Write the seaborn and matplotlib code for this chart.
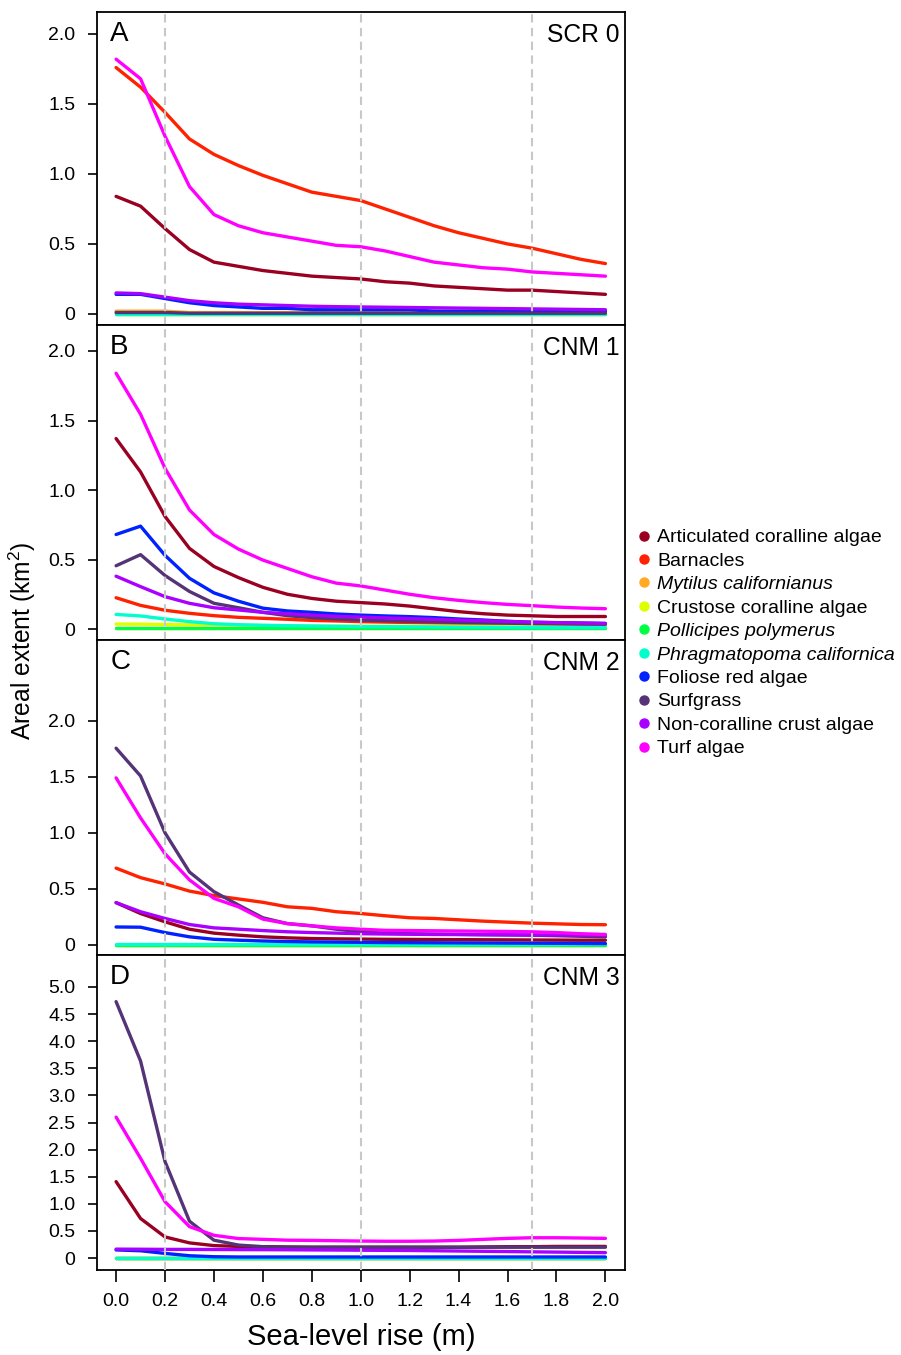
import numpy as np
import pandas as pd
import matplotlib
matplotlib.use("Agg")
import matplotlib.pyplot as plt
from matplotlib.lines import Line2D
import seaborn as sns

# sea-level rise steps (m)
slr = [round(0.1 * i, 1) for i in range(21)]

species = ['Articulated coralline algae', 'Barnacles', 'Mytilus californianus',
           'Crustose coralline algae', 'Pollicipes polymerus',
           'Phragmatopoma californica', 'Foliose red algae', 'Surfgrass',
           'Non-coralline crust algae', 'Turf algae']
italic_species = ['Mytilus californianus', 'Pollicipes polymerus',
                  'Phragmatopoma californica']
colors = ['#990022', '#FF2200', '#FFAA22', '#DDFF00', '#00FF44',
          '#00FFCC', '#0022FF', '#553377', '#AA00FF', '#FF00FF']

# Panel A - SCR 0
a_artic = [0.84, 0.77, 0.61, 0.46, 0.37, 0.34, 0.31, 0.29, 0.27, 0.26, 0.25,
           0.23, 0.22, 0.20, 0.19, 0.18, 0.17, 0.17, 0.16, 0.15, 0.14]
a_barn = [1.76, 1.62, 1.44, 1.25, 1.14, 1.06, 0.99, 0.93, 0.87, 0.84, 0.81,
          0.75, 0.69, 0.63, 0.58, 0.54, 0.50, 0.47, 0.43, 0.39, 0.36]
a_myt = [0.02, 0.02, 0.02, 0.01, 0.01, 0.01, 0.01, 0.01, 0.01, 0.01, 0.01,
         0.01, 0.01, 0.01, 0.01, 0.01, 0.01, 0.01, 0.01, 0.01, 0.01]
a_crust = [0.0] * 21
a_poll = [0.0] * 21
a_phrag = [0.0] * 21
a_fol = [0.14, 0.14, 0.11, 0.08, 0.06, 0.05, 0.04, 0.04, 0.03, 0.03, 0.03,
         0.03, 0.03, 0.02, 0.02, 0.02, 0.02, 0.02, 0.02, 0.02, 0.02]
a_surf = [0.01, 0.01, 0.01, 0.005, 0.005, 0.005, 0.005, 0.005, 0.005, 0.005, 0.005,
          0.005, 0.005, 0.005, 0.005, 0.005, 0.005, 0.005, 0.005, 0.005, 0.005]
a_ncc = [0.15, 0.145, 0.12, 0.095, 0.08, 0.07, 0.065, 0.06, 0.055, 0.052, 0.05,
         0.048, 0.046, 0.044, 0.042, 0.04, 0.038, 0.036, 0.034, 0.032, 0.03]
a_turf = [1.82, 1.68, 1.27, 0.91, 0.71, 0.63, 0.58, 0.55, 0.52, 0.49, 0.48,
          0.45, 0.41, 0.37, 0.35, 0.33, 0.32, 0.30, 0.29, 0.28, 0.27]

# Panel B - CNM 1
b_artic = [1.37, 1.13, 0.81, 0.58, 0.45, 0.37, 0.30, 0.25, 0.22, 0.20, 0.19,
           0.18, 0.165, 0.145, 0.125, 0.11, 0.10, 0.095, 0.09, 0.09, 0.09]
b_barn = [0.225, 0.17, 0.135, 0.113, 0.096, 0.084, 0.077, 0.07, 0.062, 0.058, 0.053,
          0.05, 0.047, 0.044, 0.041, 0.039, 0.037, 0.035, 0.033, 0.031, 0.03]
b_myt = [0.01] * 21
b_crust = [0.036, 0.035, 0.033, 0.03, 0.03, 0.028, 0.025, 0.022, 0.02, 0.02, 0.02,
           0.02, 0.02, 0.02, 0.02, 0.02, 0.02, 0.02, 0.02, 0.02, 0.02]
b_poll = [0.005] * 21
b_phrag = [0.105, 0.094, 0.072, 0.053, 0.038, 0.031, 0.027, 0.024, 0.022, 0.02, 0.018,
           0.017, 0.016, 0.015, 0.014, 0.013, 0.012, 0.011, 0.01, 0.01, 0.01]
b_fol = [0.68, 0.74, 0.53, 0.365, 0.26, 0.20, 0.15, 0.13, 0.12, 0.108, 0.10,
         0.094, 0.089, 0.082, 0.072, 0.065, 0.055, 0.048, 0.045, 0.043, 0.04]
b_surf = [0.455, 0.535, 0.385, 0.27, 0.185, 0.153, 0.12, 0.096, 0.082, 0.072, 0.065,
          0.06, 0.056, 0.052, 0.048, 0.045, 0.042, 0.039, 0.037, 0.035, 0.034]
b_ncc = [0.38, 0.305, 0.233, 0.185, 0.153, 0.137, 0.12, 0.11, 0.10, 0.091, 0.086,
         0.08, 0.075, 0.07, 0.065, 0.06, 0.055, 0.05, 0.046, 0.043, 0.04]
b_turf = [1.84, 1.545, 1.156, 0.856, 0.68, 0.575, 0.496, 0.436, 0.376, 0.33, 0.31,
          0.28, 0.25, 0.225, 0.206, 0.19, 0.177, 0.168, 0.158, 0.151, 0.146]

# Panel C - CNM 2
c_artic = [0.377, 0.28, 0.206, 0.14, 0.105, 0.087, 0.072, 0.063, 0.057, 0.054, 0.052,
           0.05, 0.049, 0.048, 0.047, 0.046, 0.045, 0.044, 0.043, 0.042, 0.042]
c_barn = [0.685, 0.60, 0.544, 0.48, 0.44, 0.41, 0.38, 0.34, 0.326, 0.296, 0.28,
          0.26, 0.242, 0.236, 0.224, 0.212, 0.203, 0.194, 0.188, 0.182, 0.18]
c_myt = [0.0] * 21
c_crust = [0.0] * 21
c_poll = [0.0] * 21
c_phrag = [0.005] * 21
c_fol = [0.16, 0.158, 0.11, 0.072, 0.05, 0.042, 0.035, 0.03, 0.027, 0.025, 0.023,
         0.021, 0.02, 0.019, 0.018, 0.017, 0.016, 0.015, 0.014, 0.013, 0.012]
c_surf = [1.755, 1.507, 1.0, 0.65, 0.475, 0.356, 0.242, 0.19, 0.17, 0.14, 0.117,
          0.105, 0.10, 0.097, 0.094, 0.091, 0.089, 0.087, 0.082, 0.077, 0.072]
c_ncc = [0.377, 0.296, 0.236, 0.182, 0.152, 0.14, 0.128, 0.117, 0.11, 0.105, 0.10,
         0.097, 0.095, 0.093, 0.092, 0.091, 0.09, 0.089, 0.088, 0.087, 0.087]
c_turf = [1.49, 1.133, 0.813, 0.58, 0.415, 0.34, 0.23, 0.19, 0.17, 0.152, 0.14,
          0.13, 0.128, 0.126, 0.124, 0.122, 0.12, 0.117, 0.11, 0.10, 0.093]

# Panel D - CNM 3
d_artic = [1.41, 0.73, 0.39, 0.28, 0.23, 0.215, 0.21, 0.205, 0.2, 0.2, 0.2,
           0.2, 0.2, 0.2, 0.2, 0.205, 0.21, 0.21, 0.215, 0.215, 0.215]
d_barn = [0.0] * 21
d_myt = [0.0] * 21
d_crust = [0.0] * 21
d_poll = [0.005] * 21
d_phrag = [0.005] * 21
d_fol = [0.15, 0.135, 0.086, 0.043, 0.025, 0.02, 0.02, 0.02, 0.02, 0.02, 0.02,
         0.02, 0.02, 0.02, 0.02, 0.02, 0.02, 0.02, 0.02, 0.02, 0.02]
d_surf = [4.73, 3.635, 1.78, 0.68, 0.33, 0.24, 0.21, 0.2, 0.2, 0.2, 0.2,
          0.2, 0.2, 0.2, 0.2, 0.2, 0.2, 0.2, 0.2, 0.2, 0.2]
d_ncc = [0.165, 0.163, 0.16, 0.16, 0.158, 0.156, 0.155, 0.153, 0.15, 0.148, 0.145,
         0.142, 0.14, 0.135, 0.13, 0.125, 0.12, 0.115, 0.11, 0.105, 0.10]
d_turf = [2.6, 1.84, 1.04, 0.58, 0.42, 0.36, 0.345, 0.33, 0.326, 0.32, 0.314,
          0.31, 0.31, 0.314, 0.326, 0.345, 0.363, 0.375, 0.375, 0.37, 0.363]

panels = [
    ('A', 'SCR 0', [a_artic, a_barn, a_myt, a_crust, a_poll, a_phrag, a_fol, a_surf, a_ncc, a_turf]),
    ('B', 'CNM 1', [b_artic, b_barn, b_myt, b_crust, b_poll, b_phrag, b_fol, b_surf, b_ncc, b_turf]),
    ('C', 'CNM 2', [c_artic, c_barn, c_myt, c_crust, c_poll, c_phrag, c_fol, c_surf, c_ncc, c_turf]),
    ('D', 'CNM 3', [d_artic, d_barn, d_myt, d_crust, d_poll, d_phrag, d_fol, d_surf, d_ncc, d_turf]),
]
ylims = [(-0.079, 2.157), (-0.079, 2.187), (-0.09, 2.72), (-0.22, 5.59)]
yticks = [np.arange(0, 2.01, 0.5), np.arange(0, 2.01, 0.5),
          np.arange(0, 2.01, 0.5), np.arange(0, 5.01, 0.5)]

sns.set_style("ticks")
plt.rcParams['font.family'] = ['Liberation Sans', 'DejaVu Sans']
plt.rcParams['mathtext.fontset'] = 'custom'
plt.rcParams['mathtext.rm'] = 'Liberation Sans'
for key in ['text.color', 'axes.labelcolor', 'xtick.color', 'ytick.color']:
    plt.rcParams[key] = 'black'

palette = dict(zip(species, colors))

fig = plt.figure(figsize=(9.01, 13.55), dpi=100)
W, H = 901, 1355
left, right = 97, 625
edges = [12, 325, 640, 955, 1270]

axes = []
for i, (letter, site, series) in enumerate(panels):
    top, bot = edges[i], edges[i + 1]
    ax = fig.add_axes([left / W, 1 - bot / H, (right - left) / W, (bot - top) / H])
    axes.append(ax)
    rows = []
    for sp, vals in zip(species, series):
        for x, v in zip(slr, vals):
            rows.append({'slr': x, 'extent': v, 'species': sp})
    df = pd.DataFrame(rows)
    sns.lineplot(data=df, x='slr', y='extent', hue='species', hue_order=species,
                 palette=palette, estimator=None, linewidth=2.4, legend=False, ax=ax)
    for xv in [0.2, 1.0, 1.7]:
        ax.axvline(xv, color='#C8C8C8', linestyle=(0, (4, 2.6)), linewidth=1.5, zorder=5)
    ax.set_xlim(-0.078, 2.08)
    ax.set_ylim(*ylims[i])
    ax.set_yticks(yticks[i])
    ax.set_yticklabels(['0'] + ['%.1f' % t for t in yticks[i][1:]])
    ax.set_xlabel('')
    ax.set_ylabel('')
    for s in ax.spines.values():
        s.set_visible(True)
        s.set_linewidth(1.3)
        s.set_color('black')
    ax.tick_params(axis='y', direction='out', length=6.5, width=1.2, labelsize=14, pad=9)
    ax.text(0.025, 0.97, letter, transform=ax.transAxes, fontsize=20,
            ha='left', va='top')
    ax.text(0.99, 0.965, site, transform=ax.transAxes, fontsize=17.7,
            ha='right', va='top')
    if i < 3:
        ax.tick_params(axis='x', bottom=False, labelbottom=False)
    else:
        ax.set_xticks(np.arange(0, 2.01, 0.2))
        ax.set_xticklabels(['%.1f' % t for t in np.arange(0, 2.01, 0.2)])
        ax.tick_params(axis='x', direction='out', length=8.6, width=1.2, labelsize=14, pad=8)
        ax.set_xlabel('Sea-level rise (m)', fontsize=21, labelpad=9)

fig.text(22 / W, 1 - 641 / H, 'Areal extent (km$^2$)', rotation=90,
         fontsize=17.7, ha='center', va='center')

handles = []
for sp, c in zip(species, colors):
    handles.append(Line2D([], [], marker='o', linestyle='', color=c,
                          markersize=6.5, label=sp))
leg = fig.legend(handles=handles, loc='center left',
                 bbox_to_anchor=(636 / W, 1 - 643 / H), frameon=False,
                 fontsize=14, labelspacing=0.30, handletextpad=0.28,
                 handlelength=0.8, borderaxespad=0, borderpad=0)
for t in leg.get_texts():
    if t.get_text() in italic_species:
        t.set_style('italic')

fig.savefig('out.png', dpi=100)
